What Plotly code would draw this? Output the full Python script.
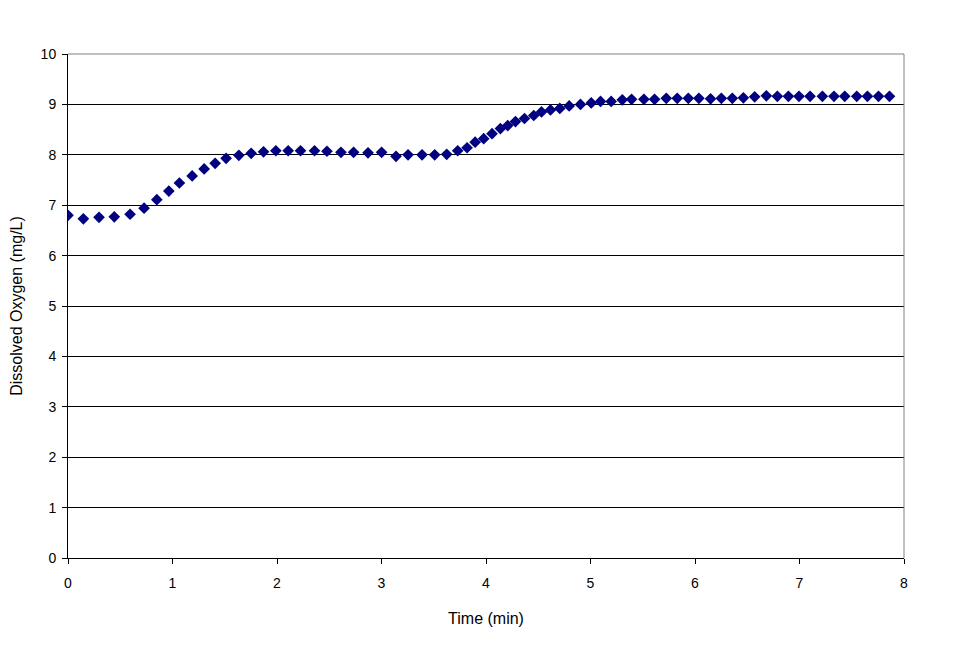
import plotly.graph_objects as go

# time (min) and dissolved oxygen (mg/L)
time_min = [0.00, 0.147, 0.297, 0.443, 0.594, 0.728, 0.850, 0.965, 1.066, 1.188,
            1.303, 1.408, 1.513, 1.635, 1.753, 1.871, 1.989, 2.107, 2.225, 2.359,
            2.478, 2.612, 2.733, 2.871, 3.001, 3.139, 3.254, 3.388, 3.509, 3.624,
            3.729, 3.819, 3.896, 3.978, 4.058, 4.138, 4.208, 4.282, 4.368, 4.457,
            4.531, 4.617, 4.706, 4.796, 4.904, 5.007, 5.096, 5.198, 5.304, 5.393,
            5.511, 5.613, 5.725, 5.830, 5.936, 6.037, 6.149, 6.252, 6.357, 6.463,
            6.571, 6.683, 6.788, 6.894, 6.995, 7.101, 7.219, 7.330, 7.433, 7.548,
            7.650, 7.756, 7.861]
oxygen = [6.80, 6.73, 6.76, 6.77, 6.82, 6.94, 7.11, 7.28, 7.44, 7.58,
          7.72, 7.83, 7.93, 7.99, 8.03, 8.06, 8.08, 8.08, 8.08, 8.08,
          8.07, 8.05, 8.05, 8.04, 8.05, 7.97, 8.00, 8.00, 8.00, 8.01,
          8.08, 8.14, 8.25, 8.32, 8.42, 8.52, 8.58, 8.66, 8.72, 8.78,
          8.85, 8.89, 8.92, 8.97, 9.00, 9.03, 9.06, 9.06, 9.09, 9.10,
          9.10, 9.10, 9.12, 9.12, 9.12, 9.12, 9.11, 9.12, 9.12, 9.13,
          9.15, 9.17, 9.16, 9.16, 9.16, 9.16, 9.16, 9.16, 9.16, 9.16,
          9.16, 9.16, 9.16]

x_ticks = [0, 1, 2, 3, 4, 5, 6, 7, 8]
y_ticks = [0, 1, 2, 3, 4, 5, 6, 7, 8, 9, 10]

fig = go.Figure()
fig.add_trace(go.Scatter(
    x=time_min, y=oxygen, mode="markers",
    marker=dict(symbol="diamond", size=9, color="#000080",
                line=dict(color="#000080", width=0)),
    showlegend=False))

# page has an 8px body margin, so margins are shifted by 8
fig.update_layout(
    width=958, height=663,
    margin=dict(l=60, r=62, t=46, b=113),
    paper_bgcolor="white", plot_bgcolor="white",
    font=dict(family="Liberation Sans, Arial, sans-serif", size=14, color="black"),
    xaxis=dict(range=[0, 8], tickvals=x_ticks, showgrid=False, zeroline=False,
               showline=True, linecolor="black", linewidth=1, automargin=False,
               ticks="outside", ticklen=5, tickcolor="black", ticklabelstandoff=7,
               title=dict(text="Time (min)", font=dict(size=16), standoff=23)),
    yaxis=dict(range=[0, 10], tickvals=y_ticks, showgrid=True, gridcolor="black",
               gridwidth=1, zeroline=False, showline=True, linecolor="black",
               linewidth=1, ticks="outside", ticklen=5, tickcolor="black",
               ticklabelstandoff=3, automargin=False,
               title=dict(text="Dissolved Oxygen (mg/L)", font=dict(size=16), standoff=17)),
    shapes=[
        dict(type="line", xref="paper", yref="paper", x0=0, x1=1, y0=1, y1=1,
             line=dict(color="#808080", width=1), layer="above"),
        dict(type="line", xref="paper", yref="paper", x0=1, x1=1, y0=0, y1=1,
             line=dict(color="#808080", width=1), layer="above"),
    ],
)

fig.write_html("out.html")
